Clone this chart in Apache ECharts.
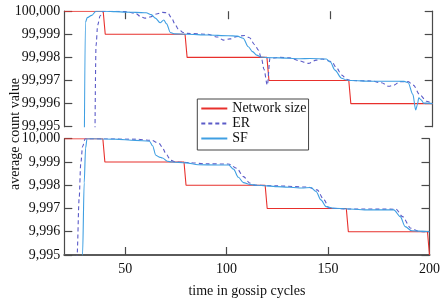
<!DOCTYPE html>
<html>
<head>
<meta charset="utf-8">
<script src="https://cdn.jsdelivr.net/npm/echarts@6/dist/echarts.min.js"></script>
<style>
  html, body { margin: 0; padding: 0; background: #fff; }
  #main { width: 443px; height: 299px; }
</style>
</head>
<body>
<div id="main"></div>
<script>
// network size: one node leaves every 40 cycles
var sizeCycles = [20, 39, 40, 79, 80, 119, 120, 159, 160, 199, 200];
var sizeBig = [100000, 100000, 99999, 99999, 99998, 99998, 99997, 99997, 99996, 99996, 99996];
var sizeSmall = [10000, 10000, 9999, 9999, 9998, 9998, 9997, 9997, 9996, 9996, 9995];

// 100,000 node network
var sfBigX = [29.5, 30.3, 31.2, 33.4, 35.5, 40, 45, 50, 55, 60, 62.5, 64.5, 66.8, 68.6, 70, 71.8, 74, 80, 90, 100, 104.5, 107.4, 109.9, 112, 114, 116, 119, 125, 135, 140, 148, 150, 152.2, 155.5, 158, 160, 170, 180, 186, 188, 190.3, 191.7, 192.5, 193.2, 194.5, 195.5, 200];
var sfBigY = [99990, 99999.5, 99999.72, 99999.82, 100000, 100000, 99999.98, 99999.96, 99999.95, 99999.93, 99999.85, 99999.7, 99999.5, 99999.62, 99999.45, 99999.08, 99999.02, 99999.0, 99998.97, 99998.94, 99998.92, 99998.83, 99998.46, 99998.25, 99998.1, 99998.02, 99997.99, 99997.98, 99997.94, 99997.95, 99997.93, 99997.8, 99997.45, 99997.1, 99997.02, 99997.0, 99996.97, 99996.97, 99996.96, 99996.9, 99996.4, 99995.72, 99995.95, 99996.25, 99996.15, 99996.02, 99996.0];
var erBigX = [34.6, 35.5, 36.3, 37.5, 39, 45, 50, 55, 57.5, 59.4, 62, 65, 68, 70.5, 72.5, 74, 75.7, 78, 80, 90, 95, 97.7, 101, 104, 108, 110.5, 113, 114.8, 116.5, 117.5, 119.2, 120.5, 125, 130, 135, 139.2, 143, 146, 150.6, 153, 155.5, 158, 160, 170, 175, 178.5, 181, 184, 188, 190.5, 193.8, 197, 200];
var erBigY = [99990, 99998.5, 99999.4, 99999.8, 100000, 100000, 99999.98, 99999.9, 99999.75, 99999.7, 99999.75, 99999.88, 99999.95, 99999.93, 99999.7, 99999.45, 99999.23, 99999.08, 99999.04, 99999.0, 99998.88, 99998.75, 99998.8, 99998.9, 99998.95, 99998.85, 99998.55, 99998.32, 99997.9, 99997.5, 99996.8, 99997.96, 99998.0, 99997.98, 99997.85, 99997.74, 99997.88, 99997.93, 99997.82, 99997.55, 99997.24, 99997.05, 99997.0, 99996.98, 99996.9, 99996.75, 99996.8, 99996.95, 99996.95, 99996.8, 99996.37, 99996.1, 99996.0];

// 10,000 node network
var sfSmallX = [28.7, 29.0, 29.8, 30.5, 31.2, 35, 45, 55, 62, 63.5, 65.1, 66.8, 68.4, 70.8, 73, 80, 86, 95, 101, 103.4, 105.8, 108.3, 111.5, 115, 125, 137, 141.6, 144.1, 146.5, 149, 153, 168, 182.4, 185.6, 188, 191.3, 198.6, 200];
var sfSmallY = [9990, 9995, 9998.1, 9999.6, 10000, 10000, 9999.98, 9999.93, 9999.89, 9999.7, 9999.29, 9999.21, 9999.17, 9999.03, 9999.0, 9998.96, 9998.88, 9998.87, 9998.87, 9998.69, 9998.34, 9998.11, 9998.03, 9998.0, 9997.94, 9997.88, 9997.9, 9997.73, 9997.37, 9997.08, 9997.01, 9996.94, 9996.94, 9996.65, 9996.22, 9996.04, 9996.01, 9996.0];
var erSmallX = [25.5, 26.3, 27.3, 28.1, 29, 30.3, 40, 55, 63, 66.8, 68.5, 70, 72.5, 75, 80, 90, 101, 105, 108.3, 111.5, 114, 125, 140, 144.6, 148, 150.5, 160, 183.5, 186.7, 190.8, 195, 200];
var erSmallY = [9990, 9995, 9997.4, 9998.9, 9999.66, 10000, 10000, 9999.98, 9999.93, 9999.79, 9999.6, 9999.36, 9999.07, 9999.0, 9998.98, 9998.92, 9998.91, 9998.73, 9998.37, 9998.09, 9998.0, 9997.97, 9997.92, 9997.8, 9997.37, 9997.01, 9996.98, 9996.97, 9996.65, 9996.15, 9996.01, 9996.0];

var xTicks = [50, 100, 150, 200];

var chart = echarts.init(document.getElementById('main'));

function zip(xs, ys) {
  return xs.map(function (x, i) { return [x, ys[i]]; });
}

var serif = 'Liberation Serif';
var axisColor = '#4a4a4a';
var red = '#e8302c';
var sfColor = '#3f9fe2';
var erColor = '#5b5bc8';

function yAxisPair(grid, min, max) {
  var left = {
    type: 'value', gridIndex: grid, min: min, max: max, interval: 1,
    axisLine: { show: true, lineStyle: { color: axisColor, width: 1.2 } },
    axisTick: { show: true, inside: true, length: 8, lineStyle: { color: axisColor, width: 1.2 } },
    axisLabel: {
      color: '#111', fontFamily: serif, fontSize: 14, margin: 4,
      formatter: function (v) { return v.toLocaleString('en-US'); }
    },
    splitLine: { show: false }
  };
  var right = {
    type: 'value', gridIndex: grid, position: 'right', min: min, max: max, interval: 1,
    axisLine: { show: true, lineStyle: { color: axisColor, width: 1.2 } },
    axisTick: { show: true, inside: true, length: 8, lineStyle: { color: axisColor, width: 1.2 } },
    axisLabel: { show: false },
    splitLine: { show: false }
  };
  return [left, right];
}

function line(name, data, xi, yi, color, dashed) {
  return {
    name: name, type: 'line', xAxisIndex: xi, yAxisIndex: yi,
    data: data, symbol: 'none', smooth: dashed === null ? false : 0.3,
    smoothMonotone: 'x', clip: true,
    lineStyle: { color: color, width: 1.1, type: dashed ? [4, 3] : 'solid' },
    itemStyle: { color: color }
  };
}

var yTop = yAxisPair(0, 99995, 100000);
var yBot = yAxisPair(1, 9995, 10000);

option = {
  animation: false,
  backgroundColor: '#fff',
  grid: [
    { left: 64.3, right: 10.3, top: 11.2, height: 115.5 },
    { left: 64.3, right: 10.3, top: 138.7, height: 116.6 }
  ],
  xAxis: [
    {
      type: 'value', gridIndex: 0, position: 'top', min: 20, max: 200,
      axisLine: { show: false },
      axisTick: { show: true, inside: true, length: 8, customValues: [50, 100, 150], lineStyle: { color: axisColor, width: 1.2 } },
      axisLabel: { show: false },
      splitLine: { show: false }
    },
    {
      type: 'value', gridIndex: 1, min: 20, max: 200,
      name: 'time in gossip cycles', nameLocation: 'middle', nameGap: 29,
      nameTextStyle: { color: '#111', fontFamily: serif, fontSize: 14 },
      axisLine: { show: true, lineStyle: { color: '#5a5a5a', width: 2 } },
      axisTick: { show: true, inside: true, length: 8, customValues: [50, 100, 150], lineStyle: { color: axisColor, width: 1.2 } },
      axisLabel: { color: '#111', fontFamily: serif, fontSize: 14, margin: 7, customValues: xTicks },
      splitLine: { show: false }
    }
  ],
  yAxis: [yTop[0], yTop[1], yBot[0], yBot[1]],
  legend: {
    orient: 'vertical', left: 197.3, top: 99,
    padding: [2, 2, 4, 3], itemGap: 0, itemWidth: 26, itemHeight: 10,
    borderColor: '#444', borderWidth: 1, backgroundColor: '#fff', borderRadius: 0,
    itemStyle: { opacity: 0, borderWidth: 0 },
    textStyle: { fontFamily: serif, fontSize: 14, color: '#111', lineHeight: 15 },
    data: ['Network size', 'ER', 'SF']
  },
  graphic: [{
    type: 'text', x: 15, y: 134, rotation: Math.PI / 2,
    style: { text: 'average count value', font: '14px "Liberation Serif"', fill: '#111', textAlign: 'center', textVerticalAlign: 'middle' }
  }],
  series: [
    line('Network size', zip(sizeCycles, sizeBig), 0, 0, red, null),
    line('ER', zip(erBigX, erBigY), 0, 0, erColor, true),
    line('SF', zip(sfBigX, sfBigY), 0, 0, sfColor, false),
    line('Network size', zip(sizeCycles, sizeSmall), 1, 2, red, null),
    line('ER', zip(erSmallX, erSmallY), 1, 2, erColor, true),
    line('SF', zip(sfSmallX, sfSmallY), 1, 2, sfColor, false)
  ]
};

chart.setOption(option);

window.onresize = function () {
  chart.resize();
};
</script>
</body>
</html>
